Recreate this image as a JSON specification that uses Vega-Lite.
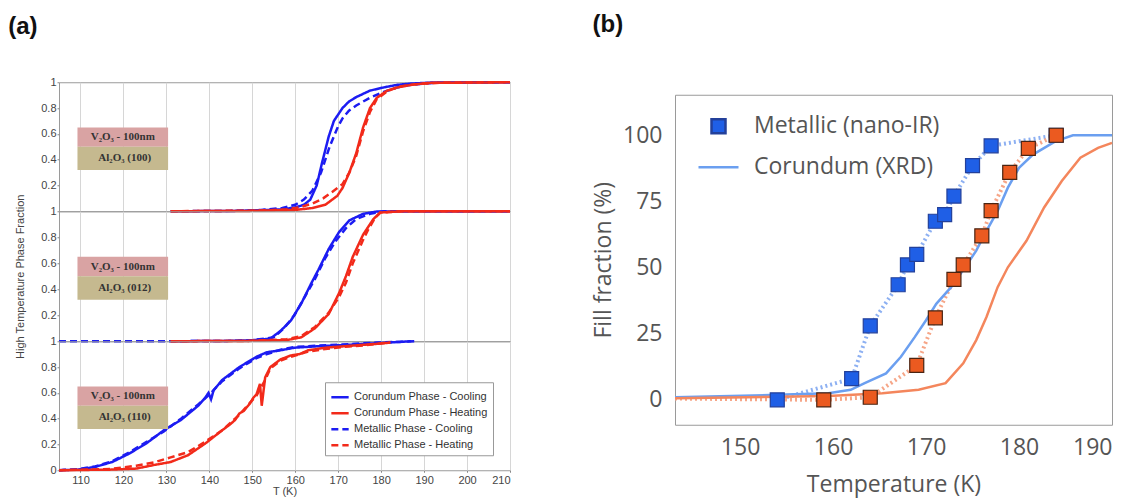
{
  "$schema": "https://vega.github.io/schema/vega-lite/v6.json",
  "padding": {"left": 8, "top": 12, "right": 4, "bottom": 0},
  "background": "white",
  "datasets": {
    "a_top": [
      {"T":131,"f":0,"s":"CC"},{"T":145,"f":0.002,"s":"CC"},{"T":152,"f":0.008,"s":"CC"},{"T":157,"f":0.015,"s":"CC"},{"T":160,"f":0.03,"s":"CC"},{"T":162,"f":0.05,"s":"CC"},{"T":163.5,"f":0.09,"s":"CC"},{"T":165,"f":0.2,"s":"CC"},{"T":166.2,"f":0.37,"s":"CC"},{"T":167.8,"f":0.58,"s":"CC"},{"T":169,"f":0.7,"s":"CC"},{"T":171,"f":0.8,"s":"CC"},{"T":172.5,"f":0.85,"s":"CC"},{"T":174.2,"f":0.885,"s":"CC"},{"T":177.4,"f":0.935,"s":"CC"},{"T":180.6,"f":0.96,"s":"CC"},{"T":183.8,"f":0.98,"s":"CC"},{"T":187,"f":0.99,"s":"CC"},{"T":192,"f":0.998,"s":"CC"},{"T":210,"f":1,"s":"CC"},
      {"T":131,"f":0,"s":"MC"},{"T":145,"f":0.003,"s":"MC"},{"T":152,"f":0.01,"s":"MC"},{"T":157,"f":0.025,"s":"MC"},{"T":160,"f":0.05,"s":"MC"},{"T":162,"f":0.09,"s":"MC"},{"T":164,"f":0.16,"s":"MC"},{"T":166,"f":0.3,"s":"MC"},{"T":168,"f":0.5,"s":"MC"},{"T":170,"f":0.66,"s":"MC"},{"T":171,"f":0.72,"s":"MC"},{"T":172.5,"f":0.78,"s":"MC"},{"T":174.2,"f":0.82,"s":"MC"},{"T":177.4,"f":0.88,"s":"MC"},{"T":180.6,"f":0.925,"s":"MC"},{"T":183.8,"f":0.96,"s":"MC"},{"T":187,"f":0.98,"s":"MC"},{"T":192,"f":0.995,"s":"MC"},{"T":210,"f":1,"s":"MC"},
      {"T":131,"f":0,"s":"CH"},{"T":150,"f":0.003,"s":"CH"},{"T":160,"f":0.01,"s":"CH"},{"T":164,"f":0.025,"s":"CH"},{"T":167,"f":0.05,"s":"CH"},{"T":169.8,"f":0.12,"s":"CH"},{"T":171,"f":0.18,"s":"CH"},{"T":172.6,"f":0.3,"s":"CH"},{"T":174.2,"f":0.45,"s":"CH"},{"T":175.8,"f":0.65,"s":"CH"},{"T":177.4,"f":0.8,"s":"CH"},{"T":179,"f":0.88,"s":"CH"},{"T":181.4,"f":0.935,"s":"CH"},{"T":183.8,"f":0.96,"s":"CH"},{"T":187,"f":0.98,"s":"CH"},{"T":191,"f":0.995,"s":"CH"},{"T":210,"f":1,"s":"CH"},
      {"T":131,"f":0,"s":"MH"},{"T":152,"f":0.005,"s":"MH"},{"T":158,"f":0.015,"s":"MH"},{"T":161,"f":0.03,"s":"MH"},{"T":164,"f":0.06,"s":"MH"},{"T":166.5,"f":0.1,"s":"MH"},{"T":168.6,"f":0.15,"s":"MH"},{"T":171,"f":0.21,"s":"MH"},{"T":172.6,"f":0.3,"s":"MH"},{"T":174.2,"f":0.43,"s":"MH"},{"T":175.8,"f":0.62,"s":"MH"},{"T":177.4,"f":0.77,"s":"MH"},{"T":179,"f":0.87,"s":"MH"},{"T":181.4,"f":0.93,"s":"MH"},{"T":184,"f":0.965,"s":"MH"},{"T":188,"f":0.985,"s":"MH"},{"T":195,"f":0.998,"s":"MH"},{"T":210,"f":1,"s":"MH"}
    ],
    "a_mid": [
      {"T":131,"f":0,"s":"CC"},{"T":145,"f":0.003,"s":"CC"},{"T":150,"f":0.008,"s":"CC"},{"T":154.2,"f":0.02,"s":"CC"},{"T":156.6,"f":0.08,"s":"CC"},{"T":159,"f":0.16,"s":"CC"},{"T":161.4,"f":0.29,"s":"CC"},{"T":163.8,"f":0.45,"s":"CC"},{"T":165.4,"f":0.55,"s":"CC"},{"T":167.8,"f":0.71,"s":"CC"},{"T":170.2,"f":0.84,"s":"CC"},{"T":172.6,"f":0.93,"s":"CC"},{"T":175.8,"f":0.98,"s":"CC"},{"T":179,"f":0.998,"s":"CC"},{"T":185,"f":1,"s":"CC"},{"T":210,"f":1,"s":"CC"},
      {"T":105,"f":0,"s":"MC"},{"T":131,"f":0,"s":"MC"},{"T":145,"f":0.003,"s":"MC"},{"T":150,"f":0.008,"s":"MC"},{"T":155,"f":0.03,"s":"MC"},{"T":157.4,"f":0.1,"s":"MC"},{"T":159.8,"f":0.2,"s":"MC"},{"T":162.2,"f":0.34,"s":"MC"},{"T":164.6,"f":0.48,"s":"MC"},{"T":167,"f":0.64,"s":"MC"},{"T":169.4,"f":0.77,"s":"MC"},{"T":171.8,"f":0.87,"s":"MC"},{"T":174.2,"f":0.94,"s":"MC"},{"T":177.4,"f":0.98,"s":"MC"},{"T":180.6,"f":1,"s":"MC"},{"T":210,"f":1,"s":"MC"},
      {"T":131,"f":0,"s":"CH"},{"T":150,"f":0.003,"s":"CH"},{"T":158.2,"f":0.01,"s":"CH"},{"T":161.4,"f":0.03,"s":"CH"},{"T":164.6,"f":0.1,"s":"CH"},{"T":167.8,"f":0.21,"s":"CH"},{"T":170.2,"f":0.37,"s":"CH"},{"T":171.8,"f":0.5,"s":"CH"},{"T":173.4,"f":0.65,"s":"CH"},{"T":175.8,"f":0.82,"s":"CH"},{"T":178.2,"f":0.94,"s":"CH"},{"T":179.8,"f":0.99,"s":"CH"},{"T":185,"f":1,"s":"CH"},{"T":210,"f":1,"s":"CH"},
      {"T":131,"f":0,"s":"MH"},{"T":150,"f":0.003,"s":"MH"},{"T":158,"f":0.015,"s":"MH"},{"T":161.4,"f":0.04,"s":"MH"},{"T":164.6,"f":0.11,"s":"MH"},{"T":167.8,"f":0.22,"s":"MH"},{"T":170.2,"f":0.34,"s":"MH"},{"T":171.8,"f":0.45,"s":"MH"},{"T":173.4,"f":0.6,"s":"MH"},{"T":175.8,"f":0.78,"s":"MH"},{"T":177,"f":0.86,"s":"MH"},{"T":178.6,"f":0.95,"s":"MH"},{"T":179.8,"f":0.99,"s":"MH"},{"T":185,"f":1,"s":"MH"},{"T":210,"f":1,"s":"MH"}
    ],
    "a_bot": [
      {"T":105,"f":0,"s":"CC"},{"T":109.4,"f":0.005,"s":"CC"},{"T":113.4,"f":0.026,"s":"CC"},{"T":117.4,"f":0.064,"s":"CC"},{"T":121.4,"f":0.13,"s":"CC"},{"T":125.4,"f":0.21,"s":"CC"},{"T":129.4,"f":0.31,"s":"CC"},{"T":133.4,"f":0.39,"s":"CC"},{"T":137.4,"f":0.5,"s":"CC"},{"T":139,"f":0.56,"s":"CC"},{"T":139.8,"f":0.6,"s":"CC"},{"T":140.4,"f":0.55,"s":"CC"},{"T":141,"f":0.62,"s":"CC"},{"T":143,"f":0.7,"s":"CC"},{"T":147,"f":0.8,"s":"CC"},{"T":151,"f":0.88,"s":"CC"},{"T":153.4,"f":0.915,"s":"CC"},{"T":156.6,"f":0.93,"s":"CC"},{"T":159.8,"f":0.95,"s":"CC"},{"T":164.6,"f":0.96,"s":"CC"},{"T":171,"f":0.97,"s":"CC"},{"T":179,"f":0.985,"s":"CC"},{"T":187,"f":1,"s":"CC"},
      {"T":105,"f":0,"s":"MC"},{"T":109.4,"f":0.008,"s":"MC"},{"T":113.4,"f":0.03,"s":"MC"},{"T":117.4,"f":0.07,"s":"MC"},{"T":121.4,"f":0.14,"s":"MC"},{"T":125.4,"f":0.22,"s":"MC"},{"T":129.4,"f":0.3,"s":"MC"},{"T":133.4,"f":0.4,"s":"MC"},{"T":137.4,"f":0.51,"s":"MC"},{"T":139.8,"f":0.58,"s":"MC"},{"T":143,"f":0.69,"s":"MC"},{"T":147,"f":0.79,"s":"MC"},{"T":151,"f":0.87,"s":"MC"},{"T":153.4,"f":0.9,"s":"MC"},{"T":156.6,"f":0.935,"s":"MC"},{"T":159.8,"f":0.955,"s":"MC"},{"T":164.6,"f":0.965,"s":"MC"},{"T":171,"f":0.975,"s":"MC"},{"T":179,"f":0.99,"s":"MC"},{"T":188,"f":1,"s":"MC"},
      {"T":105,"f":0,"s":"CH"},{"T":117.4,"f":0.005,"s":"CH"},{"T":123,"f":0.013,"s":"CH"},{"T":127,"f":0.04,"s":"CH"},{"T":131,"f":0.064,"s":"CH"},{"T":135,"f":0.116,"s":"CH"},{"T":139,"f":0.206,"s":"CH"},{"T":143,"f":0.31,"s":"CH"},{"T":145,"f":0.36,"s":"CH"},{"T":146,"f":0.39,"s":"CH"},{"T":147,"f":0.44,"s":"CH"},{"T":148,"f":0.46,"s":"CH"},{"T":149.4,"f":0.515,"s":"CH"},{"T":150.2,"f":0.56,"s":"CH"},{"T":151,"f":0.59,"s":"CH"},{"T":151.8,"f":0.67,"s":"CH"},{"T":152.2,"f":0.5,"s":"CH"},{"T":153,"f":0.72,"s":"CH"},{"T":154.2,"f":0.8,"s":"CH"},{"T":156.6,"f":0.86,"s":"CH"},{"T":159,"f":0.89,"s":"CH"},{"T":161,"f":0.9,"s":"CH"},{"T":163,"f":0.93,"s":"CH"},{"T":167,"f":0.95,"s":"CH"},{"T":171,"f":0.96,"s":"CH"},{"T":175,"f":0.97,"s":"CH"},{"T":179,"f":0.98,"s":"CH"},{"T":182.2,"f":0.99,"s":"CH"},
      {"T":105,"f":0,"s":"MH"},{"T":117,"f":0.01,"s":"MH"},{"T":123,"f":0.035,"s":"MH"},{"T":127,"f":0.06,"s":"MH"},{"T":131,"f":0.1,"s":"MH"},{"T":135,"f":0.14,"s":"MH"},{"T":139,"f":0.22,"s":"MH"},{"T":143,"f":0.31,"s":"MH"},{"T":147,"f":0.43,"s":"MH"},{"T":151,"f":0.58,"s":"MH"},{"T":153,"f":0.7,"s":"MH"},{"T":154.2,"f":0.79,"s":"MH"},{"T":156.6,"f":0.85,"s":"MH"},{"T":159,"f":0.88,"s":"MH"},{"T":163,"f":0.92,"s":"MH"},{"T":167,"f":0.94,"s":"MH"},{"T":171,"f":0.955,"s":"MH"},{"T":175,"f":0.965,"s":"MH"},{"T":179,"f":0.98,"s":"MH"},{"T":182,"f":0.99,"s":"MH"}
    ],
    "boxes": [
      {"panel":"top","kind":"film","T":109.3,"T2":130.4,"f":0.5,"f2":0.65},
      {"panel":"top","kind":"sub","T":109.3,"T2":130.4,"f":0.32,"f2":0.5},
      {"panel":"mid","kind":"film","T":109.3,"T2":130.4,"f":0.5,"f2":0.65},
      {"panel":"mid","kind":"sub","T":109.3,"T2":130.4,"f":0.32,"f2":0.5},
      {"panel":"bot","kind":"film","T":109.3,"T2":130.4,"f":0.5,"f2":0.65},
      {"panel":"bot","kind":"sub","T":109.3,"T2":130.4,"f":0.32,"f2":0.5}
    ],
    "box_labels": [
      {"panel":"top","T":119.85,"f":0.575,"label":"V₂O₃ - 100nm"},
      {"panel":"top","T":120.3,"f":0.41,"label":"Al₂O₃ (100)"},
      {"panel":"mid","T":119.85,"f":0.575,"label":"V₂O₃ - 100nm"},
      {"panel":"mid","T":120.3,"f":0.41,"label":"Al₂O₃ (012)"},
      {"panel":"bot","T":119.85,"f":0.575,"label":"V₂O₃ - 100nm"},
      {"panel":"bot","T":120.3,"f":0.41,"label":"Al₂O₃ (110)"}
    ],
    "b_cor": [
      {"T":143,"v":1,"s":"Corundum (XRD)"},{"T":154,"v":1.9,"s":"Corundum (XRD)"},{"T":159.5,"v":2.5,"s":"Corundum (XRD)"},{"T":161.9,"v":3.8,"s":"Corundum (XRD)"},{"T":163.4,"v":6.3,"s":"Corundum (XRD)"},{"T":165.7,"v":10,"s":"Corundum (XRD)"},{"T":167.3,"v":16.3,"s":"Corundum (XRD)"},{"T":168.8,"v":23.8,"s":"Corundum (XRD)"},{"T":170,"v":30.1,"s":"Corundum (XRD)"},{"T":171.1,"v":36.3,"s":"Corundum (XRD)"},{"T":172.7,"v":42.6,"s":"Corundum (XRD)"},{"T":174.2,"v":50.1,"s":"Corundum (XRD)"},{"T":175.4,"v":56.4,"s":"Corundum (XRD)"},{"T":176.5,"v":63.9,"s":"Corundum (XRD)"},{"T":177.7,"v":71.4,"s":"Corundum (XRD)"},{"T":178.8,"v":80.2,"s":"Corundum (XRD)"},{"T":180,"v":87.7,"s":"Corundum (XRD)"},{"T":181.5,"v":92.7,"s":"Corundum (XRD)"},{"T":183.9,"v":97.7,"s":"Corundum (XRD)"},{"T":185.8,"v":100,"s":"Corundum (XRD)"},{"T":190,"v":100,"s":"Corundum (XRD)"},
      {"T":143,"v":0.6,"s":"Corundum heating"},{"T":159.5,"v":1.5,"s":"Corundum heating"},{"T":165.3,"v":2.5,"s":"Corundum heating"},{"T":169.2,"v":3.8,"s":"Corundum heating"},{"T":172.1,"v":6.3,"s":"Corundum heating"},{"T":174,"v":13.8,"s":"Corundum heating"},{"T":175.4,"v":22.6,"s":"Corundum heating"},{"T":176.5,"v":31.3,"s":"Corundum heating"},{"T":177.7,"v":42.6,"s":"Corundum heating"},{"T":178.8,"v":50.1,"s":"Corundum heating"},{"T":180.8,"v":60.1,"s":"Corundum heating"},{"T":182.7,"v":72.7,"s":"Corundum heating"},{"T":184.6,"v":82.7,"s":"Corundum heating"},{"T":186.6,"v":91.5,"s":"Corundum heating"},{"T":188.5,"v":95.2,"s":"Corundum heating"},{"T":190,"v":97.1,"s":"Corundum heating"}
    ],
    "b_met": [
      {"T":154,"v":0,"s":"Metallic (nano-IR)","m":1},{"T":162,"v":8,"s":"Metallic (nano-IR)","m":1},{"T":164,"v":28,"s":"Metallic (nano-IR)","m":1},{"T":167,"v":43.5,"s":"Metallic (nano-IR)","m":1},{"T":168,"v":51,"s":"Metallic (nano-IR)","m":1},{"T":169,"v":55,"s":"Metallic (nano-IR)","m":1},{"T":171,"v":67.5,"s":"Metallic (nano-IR)","m":1},{"T":172,"v":70,"s":"Metallic (nano-IR)","m":1},{"T":173,"v":77,"s":"Metallic (nano-IR)","m":1},{"T":175,"v":88.5,"s":"Metallic (nano-IR)","m":1},{"T":177,"v":96,"s":"Metallic (nano-IR)","m":1},{"T":184,"v":100,"s":"Metallic (nano-IR)","m":1},
      {"T":143,"v":0.5,"s":"Metallic heating","m":0},{"T":159,"v":0,"s":"Metallic heating","m":1},{"T":164,"v":1,"s":"Metallic heating","m":1},{"T":169,"v":13,"s":"Metallic heating","m":1},{"T":171,"v":31,"s":"Metallic heating","m":1},{"T":173,"v":45.5,"s":"Metallic heating","m":1},{"T":174,"v":51,"s":"Metallic heating","m":1},{"T":176,"v":62,"s":"Metallic heating","m":1},{"T":177,"v":71.5,"s":"Metallic heating","m":1},{"T":179,"v":86,"s":"Metallic heating","m":1},{"T":181,"v":95,"s":"Metallic heating","m":1},{"T":184,"v":100,"s":"Metallic heating","m":1}
    ]
  },
  "spacing": 76,
  "center": true,
  "resolve": {"scale": {"x": "independent", "y": "independent", "color": "independent", "strokeDash": "independent", "fill": "independent", "stroke": "independent", "shape": "independent", "size": "independent"}, "legend": {"color": "independent", "strokeDash": "independent", "fill": "independent", "stroke": "independent", "shape": "independent", "size": "independent"}},
  "hconcat": [
    {
      "title": {"text": "(a)", "offset": 37, "dx": -6},
      "spacing": 0,
      "bounds": "flush",
      "resolve": {"scale": {"color": "independent", "strokeDash": "independent", "fill": "independent"}, "legend": {"color": "independent", "strokeDash": "independent", "fill": "independent"}},
      "vconcat": [
        {
          "width": 451, "height": 129,
          "encoding": {
            "x": {"field": "T", "type": "quantitative", "scale": {"domain": [105, 210], "nice": false}, "axis": {"values": [110,120,130,140,150,160,170,180,190,200,210], "labels": false, "ticks": false, "domain": false, "title": null, "grid": true, "gridColor": "#d6d6d6", "minExtent": 0, "maxExtent": 0}},
            "y": {"field": "f", "type": "quantitative", "scale": {"domain": [0, 1], "nice": false}, "axis": {"values": [0.2,0.4,0.6,0.8,1], "labelExpr": "datum.value == 1 ? '1' : format(datum.value, '.1f')", "title": null, "grid": false, "domain": false, "tickSize": 2, "tickColor": "#888", "labelPadding": 1, "labelFontSize": 11, "labelColor": "#444", "labelFont": "Liberation Sans"}}
          },
          "layer": [
            {"data": {"name": "a_top"}, "mark": {"type": "line", "strokeWidth": 2.5},
             "encoding": {
               "color": {"field": "s", "type": "nominal", "scale": {"domain": ["CC","CH","MC","MH"], "range": ["#1c1cf2","#f22a1a","#1c1cf2","#f22a1a"]}, "legend": null},
               "strokeDash": {"field": "s", "type": "nominal", "scale": {"domain": ["CC","CH","MC","MH"], "range": [[1,0],[1,0],[7,4],[7,4]]}, "legend": null}
             }},
            {"data": {"name": "boxes"}, "transform": [{"filter": "datum.panel == 'top'"}], "mark": {"type": "rect"},
             "encoding": {"x2": {"field": "T2"}, "y2": {"field": "f2"}, "fill": {"field": "kind", "type": "nominal", "scale": {"domain": ["film","sub"], "range": ["#d9a3a3","#c5b98f"]}, "legend": null}}},
            {"data": {"name": "box_labels"}, "transform": [{"filter": "datum.panel == 'top'"}], "mark": {"type": "text", "font": "Liberation Serif", "fontWeight": "bold", "fontSize": 11, "color": "#333"},
             "encoding": {"text": {"field": "label"}}}
          ]
        },
        {
          "width": 451, "height": 130,
          "encoding": {
            "x": {"field": "T", "type": "quantitative", "scale": {"domain": [105, 210], "nice": false}, "axis": {"values": [110,120,130,140,150,160,170,180,190,200,210], "labels": false, "ticks": false, "domain": false, "title": null, "grid": true, "gridColor": "#d6d6d6", "minExtent": 0, "maxExtent": 0}},
            "y": {"field": "f", "type": "quantitative", "scale": {"domain": [0, 1], "nice": false}, "axis": {"values": [0.2,0.4,0.6,0.8,1], "labelExpr": "datum.value == 1 ? '1' : format(datum.value, '.1f')", "title": "High Temperature Phase Fraction", "titleFont": "Liberation Sans", "titleFontSize": 11, "titleFontWeight": "normal", "titleColor": "#444", "titlePadding": 15, "grid": false, "domain": false, "tickSize": 2, "tickColor": "#888", "labelPadding": 1, "labelFontSize": 11, "labelColor": "#444", "labelFont": "Liberation Sans"}}
          },
          "layer": [
            {"data": {"name": "a_mid"}, "mark": {"type": "line", "strokeWidth": 2.5},
             "encoding": {
               "color": {"field": "s", "type": "nominal", "scale": {"domain": ["CC","CH","MC","MH"], "range": ["#1c1cf2","#f22a1a","#1c1cf2","#f22a1a"]}, "legend": null},
               "strokeDash": {"field": "s", "type": "nominal", "scale": {"domain": ["CC","CH","MC","MH"], "range": [[1,0],[1,0],[7,4],[7,4]]}, "legend": null}
             }},
            {"data": {"name": "boxes"}, "transform": [{"filter": "datum.panel == 'mid'"}], "mark": {"type": "rect"},
             "encoding": {"x2": {"field": "T2"}, "y2": {"field": "f2"}, "fill": {"field": "kind", "type": "nominal", "scale": {"domain": ["film","sub"], "range": ["#d9a3a3","#c5b98f"]}, "legend": null}}},
            {"data": {"name": "box_labels"}, "transform": [{"filter": "datum.panel == 'mid'"}], "mark": {"type": "text", "font": "Liberation Serif", "fontWeight": "bold", "fontSize": 11, "color": "#333"},
             "encoding": {"text": {"field": "label"}}}
          ]
        },
        {
          "width": 451, "height": 129,
          "encoding": {
            "x": {"field": "T", "type": "quantitative", "scale": {"domain": [105, 210], "nice": false}, "axis": {"values": [110,120,130,140,150,160,170,180,190,200,210], "title": ["T (K)", " "], "titleFont": "Liberation Sans", "titleFontSize": 11, "titleFontWeight": "normal", "titleColor": "#444", "titlePadding": 0, "domain": false, "grid": true, "gridColor": "#d6d6d6", "tickSize": 2, "tickColor": "#888", "labelPadding": 2, "labelFontSize": 11, "labelColor": "#444", "labelFont": "Liberation Sans"}},
            "y": {"field": "f", "type": "quantitative", "scale": {"domain": [0, 1], "nice": false}, "axis": {"values": [0,0.2,0.4,0.6,0.8,1], "labelExpr": "datum.value == 1 ? '1' : datum.value == 0 ? '0' : format(datum.value, '.1f')", "title": null, "grid": false, "domain": false, "tickSize": 2, "tickColor": "#888", "labelPadding": 1, "labelFontSize": 11, "labelColor": "#444", "labelFont": "Liberation Sans"}}
          },
          "layer": [
            {"data": {"name": "a_bot"}, "mark": {"type": "line", "strokeWidth": 2.5},
             "encoding": {
               "color": {"field": "s", "type": "nominal", "scale": {"domain": ["CC","CH","MC","MH"], "range": ["#1c1cf2","#f22a1a","#1c1cf2","#f22a1a"]},
                 "legend": {"title": null, "orient": "none", "legendX": 266, "legendY": 41, "labelExpr": "datum.label == 'CC' ? 'Corundum Phase - Cooling' : datum.label == 'CH' ? 'Corundum Phase - Heating' : datum.label == 'MC' ? 'Metallic Phase - Cooling' : 'Metallic Phase - Heating'", "labelFont": "Liberation Sans", "labelFontSize": 11, "labelColor": "#333", "symbolType": "stroke", "symbolSize": 300, "symbolStrokeWidth": 2.5, "fillColor": "#ffffff", "strokeColor": "#999", "padding": 5, "rowPadding": 1, "labelOffset": 4}},
               "strokeDash": {"field": "s", "type": "nominal", "scale": {"domain": ["CC","CH","MC","MH"], "range": [[1,0],[1,0],[7,4],[7,4]]},
                 "legend": {"title": null, "orient": "none", "legendX": 266, "legendY": 41, "labelExpr": "datum.label == 'CC' ? 'Corundum Phase - Cooling' : datum.label == 'CH' ? 'Corundum Phase - Heating' : datum.label == 'MC' ? 'Metallic Phase - Cooling' : 'Metallic Phase - Heating'", "labelFont": "Liberation Sans", "labelFontSize": 11, "labelColor": "#333", "symbolType": "stroke", "symbolSize": 300, "symbolStrokeWidth": 2.5, "fillColor": "#ffffff", "strokeColor": "#999", "padding": 5, "rowPadding": 1, "labelOffset": 4}}
             }},
            {"data": {"name": "boxes"}, "transform": [{"filter": "datum.panel == 'bot'"}], "mark": {"type": "rect"},
             "encoding": {"x2": {"field": "T2"}, "y2": {"field": "f2"}, "fill": {"field": "kind", "type": "nominal", "scale": {"domain": ["film","sub"], "range": ["#d9a3a3","#c5b98f"]}, "legend": null}}},
            {"data": {"name": "box_labels"}, "transform": [{"filter": "datum.panel == 'bot'"}], "mark": {"type": "text", "font": "Liberation Serif", "fontWeight": "bold", "fontSize": 11, "color": "#333"},
             "encoding": {"text": {"field": "label"}}}
          ]
        }
      ]
    },
    {
      "title": {"text": "(b)", "offset": 58},
      "width": 437, "height": 330,
      "encoding": {
        "x": {"field": "T", "type": "quantitative", "scale": {"domain": [143, 190], "nice": false}, "axis": {"values": [150,160,170,180,190], "title": "Temperature (K)", "grid": false, "ticks": false, "domain": false, "labelFont": "Open Sans", "labelFontSize": 23, "labelColor": "#555", "labelPadding": 12, "titleFont": "Open Sans", "titleFontSize": 23, "titleFontWeight": "normal", "titleColor": "#555", "titlePadding": 14}},
        "y": {"field": "v", "type": "quantitative", "scale": {"domain": [-9.4, 115.3], "nice": false, "zero": false}, "axis": {"values": [0,25,50,75,100], "title": "Fill fraction (%)", "grid": false, "ticks": false, "domain": false, "labelFont": "Open Sans", "labelFontSize": 23, "labelColor": "#555", "labelPadding": 13, "titleFont": "Open Sans", "titleFontSize": 23, "titleFontWeight": "normal", "titleColor": "#555", "titlePadding": 7}}
      },
      "layer": [
        {"data": {"name": "b_met"}, "transform": [{"filter": "datum.s == 'Metallic (nano-IR)'"}], "mark": {"type": "line", "strokeDash": [2, 3], "strokeWidth": 4, "stroke": "#8db0f2"}},
        {"data": {"name": "b_met"}, "transform": [{"filter": "datum.s == 'Metallic heating'"}], "mark": {"type": "line", "strokeDash": [2, 3], "strokeWidth": 4, "stroke": "#f6a688"}},
        {"data": {"name": "b_cor"}, "mark": {"type": "line", "strokeWidth": 2.5},
         "encoding": {
           "stroke": {"field": "s", "type": "nominal", "scale": {"domain": ["Metallic (nano-IR)","Corundum (XRD)","Metallic heating","Corundum heating"], "range": ["#23409a","#6b9ff0","#4a2412","#f4865c"]},
             "legend": {"title": null, "orient": "none", "legendX": 18, "legendY": 16, "values": ["Metallic (nano-IR)","Corundum (XRD)"], "labelFont": "Open Sans", "labelFontSize": 23, "labelColor": "#555", "labelLimit": 400, "labelOffset": 14, "rowPadding": 7, "symbolStrokeWidth": 2.5, "padding": 4}}}},
        {"data": {"name": "b_met"}, "transform": [{"filter": "datum.m == 1"}], "mark": {"type": "point", "shape": "square", "filled": true, "strokeWidth": 1.2, "opacity": 1},
         "encoding": {
           "fill": {"field": "s", "type": "nominal", "scale": {"domain": ["Metallic (nano-IR)","Corundum (XRD)","Metallic heating","Corundum heating"], "range": ["#1f5fe6","#6b9ff0","#eb5a20","#f4865c"]},
             "legend": {"title": null, "orient": "none", "legendX": 18, "legendY": 16, "values": ["Metallic (nano-IR)","Corundum (XRD)"], "labelFont": "Open Sans", "labelFontSize": 23, "labelColor": "#555", "labelLimit": 400, "labelOffset": 14, "rowPadding": 7, "symbolStrokeWidth": 2.5, "padding": 4}},
           "stroke": {"field": "s", "type": "nominal", "scale": {"domain": ["Metallic (nano-IR)","Corundum (XRD)","Metallic heating","Corundum heating"], "range": ["#23409a","#6b9ff0","#4a2412","#f4865c"]},
             "legend": {"title": null, "orient": "none", "legendX": 18, "legendY": 16, "values": ["Metallic (nano-IR)","Corundum (XRD)"], "labelFont": "Open Sans", "labelFontSize": 23, "labelColor": "#555", "labelLimit": 400, "labelOffset": 14, "rowPadding": 7, "symbolStrokeWidth": 2.5, "padding": 4}},
           "shape": {"field": "s", "type": "nominal", "scale": {"domain": ["Metallic (nano-IR)","Corundum (XRD)","Metallic heating","Corundum heating"], "range": ["square","stroke","square","stroke"]},
             "legend": {"title": null, "orient": "none", "legendX": 18, "legendY": 16, "values": ["Metallic (nano-IR)","Corundum (XRD)"], "labelFont": "Open Sans", "labelFontSize": 23, "labelColor": "#555", "labelLimit": 400, "labelOffset": 14, "rowPadding": 7, "symbolStrokeWidth": 2.5, "padding": 4}},
           "size": {"field": "s", "type": "nominal", "scale": {"type": "ordinal", "domain": ["Metallic (nano-IR)","Corundum (XRD)","Metallic heating","Corundum heating"], "range": [196, 1600, 196, 1600]},
             "legend": {"title": null, "orient": "none", "legendX": 18, "legendY": 16, "values": ["Metallic (nano-IR)","Corundum (XRD)"], "labelFont": "Open Sans", "labelFontSize": 23, "labelColor": "#555", "labelLimit": 400, "labelOffset": 14, "rowPadding": 7, "symbolStrokeWidth": 2.5, "padding": 4}}
         }}
      ]
    }
  ],
  "config": {
    "view": {"stroke": "#9a9a9a"},
    "title": {"font": "Liberation Sans", "fontSize": 24, "fontWeight": "bold", "color": "#111", "anchor": "start", "frame": "bounds"}
  }
}
